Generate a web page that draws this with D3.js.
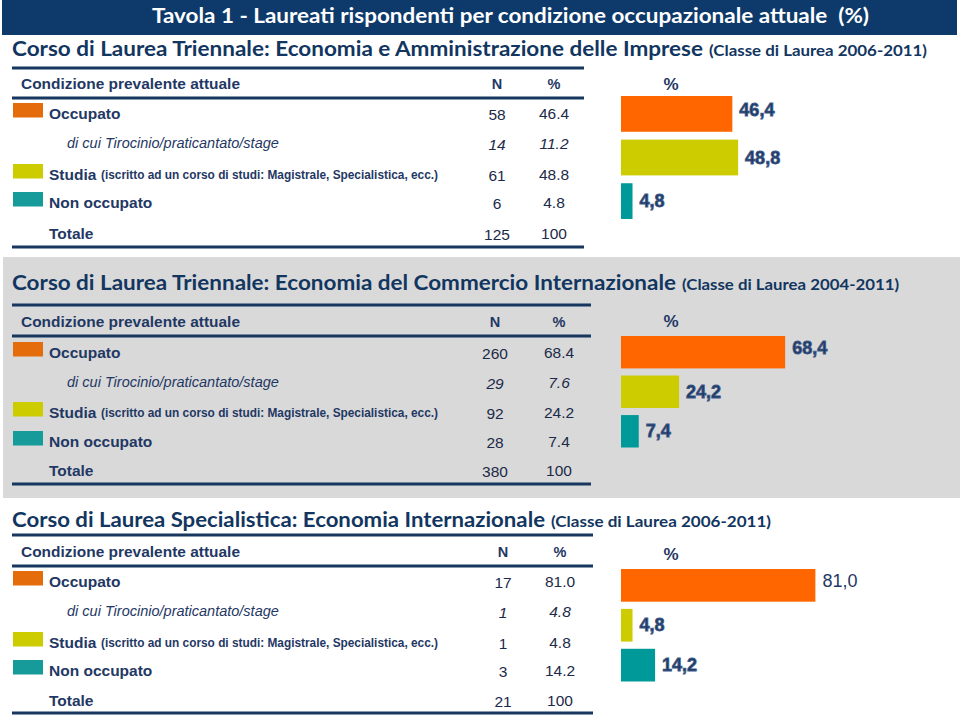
<!DOCTYPE html>
<html><head><meta charset="utf-8">
<script src="https://cdn.jsdelivr.net/npm/d3@7"></script>
<style>body{margin:0;background:#fff;} svg{display:block;}</style>
</head><body>
<svg id="c" width="960" height="718"></svg>
<script>
// ---------------- DATA ----------------
const title = "Tavola 1 - Laureati rispondenti per condizione occupazionale attuale  (%)";
const courses = [
  "Corso di Laurea Triennale: Economia e Amministrazione delle Imprese",
  "Corso di Laurea Triennale: Economia del Commercio Internazionale",
  "Corso di Laurea Specialistica: Economia Internazionale"
];
const classes = [
  "(Classe di Laurea 2006-2011)",
  "(Classe di Laurea 2004-2011)",
  "(Classe di Laurea 2006-2011)"
];
const headerLabels = ["Condizione prevalente attuale", "N", "%"];
const rowLabels = ["Occupato", "di cui Tirocinio/praticantato/stage", "Studia", "Non occupato", "Totale"];
const studiaNote = "(iscritto ad un corso di studi: Magistrale, Specialistica, ecc.)";
const nValues1 = [58, 14, 61, 6, 125];
const nValues2 = [260, 29, 92, 28, 380];
const nValues3 = [17, 1, 1, 3, 21];
const pctValues1 = [46.4, 11.2, 48.8, 4.8, 100];
const pctValues2 = [68.4, 7.6, 24.2, 7.4, 100];
const pctValues3 = [81.0, 4.8, 4.8, 14.2, 100];
const barCategories = ["Occupato", "Studia", "Non occupato"];
const barValues1 = [46.4, 48.8, 4.8];
const barValues2 = [68.4, 24.2, 7.4];
const barValues3 = [81.0, 4.8, 14.2];
const barAxisLabel = "%";

// ---------------- LAYOUT / STYLE ----------------
const NAVY = "#1f3864", SUB = "#12365f", NUM = "#1c2a48";
const barColor = d3.scaleOrdinal().domain(barCategories).range(["#ff6600", "#cccc00", "#009999"]);
const legendColor = d3.scaleOrdinal().domain(barCategories).range(["#e46c0a", "#cccc00", "#169a9a"]);
const x = d3.scaleLinear().domain([0, 100]).range([621, 861]);

const sections = [
  {n: nValues1, p: pctValues1, bars: barValues1, sub: 56, mainLen: 691, classX: 709, classLen: 218,
   lines: [68, 98, 247], lineEnd: 584, headY: 84, rows: [113, 143, 174, 202, 233], nX: 497, pX: 554,
   band: [96, 219], pctY: 84, firstRegular: false},
  {n: nValues2, p: pctValues2, bars: barValues2, sub: 289.5, mainLen: 664, classX: 682, classLen: 217,
   lines: [305, 336, 484], lineEnd: 591, headY: 322, rows: [352, 382, 412, 441, 470], nX: 495, pX: 559,
   band: [336, 447.5], pctY: 321, firstRegular: false},
  {n: nValues3, p: pctValues3, bars: barValues3, sub: 527, mainLen: 533, classX: 551, classLen: 220,
   lines: [535, 566, 713], lineEnd: 593, headY: 552, rows: [581, 611, 642, 670, 700], nX: 503, pX: 560,
   band: [569, 681.5], pctY: 554, firstRegular: true}
];

const svg = d3.select("#c");
svg.append("rect").attr("width", 960).attr("height", 718).attr("fill", "#fff");
svg.append("rect").attr("x", 3).attr("y", 257).attr("width", 957).attr("height", 241).attr("fill", "#d9d9d9");

svg.append("rect").attr("x", 2).attr("y", 0).attr("width", 955).attr("height", 35).attr("fill", "#0e3a6b");
svg.append("text").attr("x", 152).attr("y", 22.5).text(title)
  .attr("font-family", "Lato, 'Open Sans', sans-serif").attr("font-weight", 700).attr("font-size", 20)
  .attr("fill", "#fff").attr("textLength", 717).attr("lengthAdjust", "spacingAndGlyphs")
  .style("white-space", "pre");

const pctFmt = v => v === 100 ? "100" : d3.format(".1f")(v);
const barFmt = v => d3.format(".1f")(v).replace(".", ",");

sections.forEach((s, si) => {
  const g = svg.append("g");
  g.append("text").attr("x", 12).attr("y", s.sub).text(courses[si])
    .attr("font-family", "Lato, sans-serif").attr("font-weight", 700).attr("font-size", 20)
    .attr("fill", SUB).attr("textLength", s.mainLen).attr("lengthAdjust", "spacingAndGlyphs");
  g.append("text").attr("x", s.classX).attr("y", s.sub).text(classes[si])
    .attr("font-family", "Lato, sans-serif").attr("font-weight", 700).attr("font-size", 16)
    .attr("fill", SUB).attr("textLength", s.classLen).attr("lengthAdjust", "spacingAndGlyphs");
  s.lines.forEach(ly => g.append("line").attr("x1", 12).attr("x2", s.lineEnd).attr("y1", ly).attr("y2", ly)
    .attr("stroke", "#17375e").attr("stroke-width", 3));
  const hf = "Liberation Sans, Arial, sans-serif";
  g.append("text").attr("x", 21).attr("y", s.headY).attr("dominant-baseline", "central").text(headerLabels[0])
    .attr("font-family", hf).attr("font-weight", 700).attr("font-size", 14.5).attr("fill", NAVY)
    .attr("textLength", 219).attr("lengthAdjust", "spacingAndGlyphs");
  g.append("text").attr("x", s.nX).attr("y", s.headY).attr("dominant-baseline", "central").attr("text-anchor", "middle")
    .text(headerLabels[1]).attr("font-family", hf).attr("font-weight", 700).attr("font-size", 14.5).attr("fill", NAVY);
  g.append("text").attr("x", s.pX).attr("y", s.headY).attr("dominant-baseline", "central").attr("text-anchor", "middle")
    .text(headerLabels[2]).attr("font-family", hf).attr("font-weight", 700).attr("font-size", 14.5).attr("fill", NAVY);

  rowLabels.forEach((lab, ri) => {
    const cy = s.rows[ri];
    const italic = ri === 1;
    const legendIdx = barCategories.indexOf(lab);
    if (legendIdx >= 0) {
      g.append("rect").attr("x", 13).attr("y", cy - 10).attr("width", 30).attr("height", 14.5)
        .attr("fill", legendColor(lab));
    }
    g.append("text").attr("x", italic ? 67 : 49).attr("y", cy).attr("dominant-baseline", "central").text(lab)
      .attr("font-family", hf).attr("font-weight", italic ? 400 : 700).attr("font-style", italic ? "italic" : "normal")
      .attr("font-size", italic ? 14.5 : 15.5).attr("fill", NAVY);
    if (lab === "Studia") {
      g.append("text").attr("x", 101).attr("y", cy + 1).attr("dominant-baseline", "central").text(studiaNote)
        .attr("font-family", hf).attr("font-weight", 700).attr("font-size", 12).attr("fill", NAVY)
        .attr("textLength", 337).attr("lengthAdjust", "spacingAndGlyphs");
    }
    g.append("text").attr("x", s.nX).attr("y", cy + 1).attr("dominant-baseline", "central").attr("text-anchor", "middle")
      .text(s.n[ri]).attr("font-family", hf).attr("font-style", italic ? "italic" : "normal")
      .attr("font-size", 15.5).attr("fill", NUM);
    g.append("text").attr("x", s.pX).attr("y", cy).attr("dominant-baseline", "central").attr("text-anchor", "middle")
      .text(pctFmt(s.p[ri])).attr("font-family", hf).attr("font-style", italic ? "italic" : "normal")
      .attr("font-size", 15.5).attr("fill", NUM);
  });

  const y = d3.scaleBand().domain(barCategories).range(s.band).paddingInner(0.18);
  g.append("text").attr("x", 671).attr("y", s.pctY).attr("dominant-baseline", "central").attr("text-anchor", "middle")
    .text(barAxisLabel).attr("font-family", hf).attr("font-weight", 700).attr("font-size", 17).attr("fill", NAVY);
  g.selectAll("rect.bar").data(s.bars).join("rect").attr("class", "bar")
    .attr("x", x(0)).attr("y", (d, i) => y(barCategories[i]))
    .attr("width", d => x(d) - x(0)).attr("height", y.bandwidth())
    .attr("fill", (d, i) => barColor(barCategories[i]));
  g.selectAll("text.val").data(s.bars).join("text").attr("class", "val")
    .attr("x", d => x(d) + 7)
    .attr("y", (d, i) => y(barCategories[i]) + y.bandwidth() / 2 - (i === 0 ? 4 : 0))
    .attr("dominant-baseline", "central")
    .text(d => barFmt(d))
    .attr("font-family", hf).attr("font-size", 18)
    .attr("font-weight", (d, i) => (i === 0 && s.firstRegular) ? 400 : 700)
    .attr("fill", NAVY)
    .attr("stroke", (d, i) => (i === 0 && s.firstRegular) ? "none" : "#3d5a88")
    .attr("stroke-width", 0.8);
});
</script>
</body></html>
